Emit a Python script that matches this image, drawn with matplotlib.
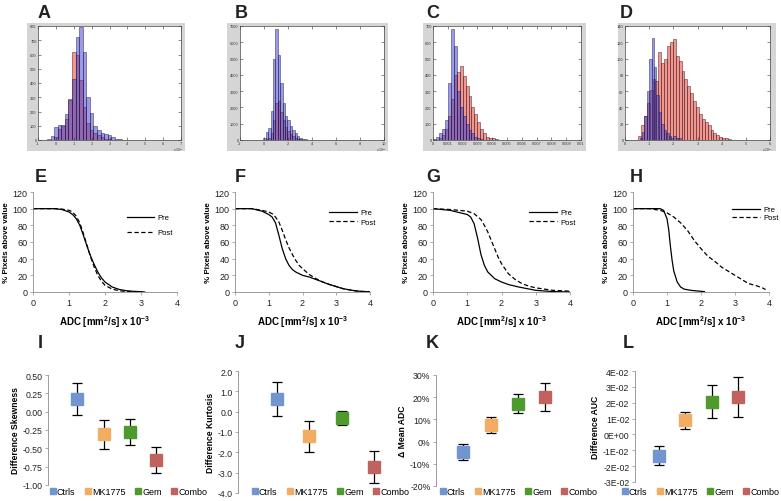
import numpy as np
import matplotlib
matplotlib.use("Agg")
import matplotlib.pyplot as plt
from matplotlib.patches import Rectangle
from matplotlib.lines import Line2D
from matplotlib.ticker import FuncFormatter, FormatStrFormatter

plt.rcParams['font.family'] = ['Liberation Sans', 'DejaVu Sans']
plt.rcParams['axes.unicode_minus'] = False
plt.rcParams['mathtext.fontset'] = 'custom'
plt.rcParams['mathtext.rm'] = 'Liberation Sans'
plt.rcParams['mathtext.bf'] = 'Liberation Sans:bold'
plt.rcParams['mathtext.default'] = 'bf'

W, H = 781, 502

# ---- histogramas (linha de cima) ----
a_x = [-0.4, -0.2, 0.0, 0.2, 0.4, 0.6, 0.8, 1.0, 1.2, 1.4, 1.6, 1.8, 2.0, 2.2, 2.4, 2.6, 2.8, 3.0, 3.2, 3.4, 3.6, 3.8]
a_azul = [8, 30, 90, 105, 105, 185, 290, 430, 720, 790, 620, 300, 190, 100, 70, 50, 45, 35, 20, 10, 5, 3]
a_verm = [0, 0, 20, 80, 100, 150, 280, 620, 600, 420, 230, 120, 70, 50, 35, 20, 10, 5, 0, 0, 0, 0]

b_x = [0.05, 0.25, 0.45, 0.65, 0.85, 1.05, 1.25, 1.45, 1.65, 1.85, 2.05, 2.25, 2.45, 2.65, 2.85, 3.05, 3.25, 3.45]
b_azul = [100, 500, 750, 1800, 5000, 6800, 5200, 3500, 2300, 1500, 1200, 850, 600, 400, 250, 150, 80, 40]
b_verm = [0, 50, 150, 400, 1200, 2300, 2400, 1700, 1200, 800, 550, 350, 220, 130, 80, 40, 20, 0]

c_x = [0.0001, 0.0003, 0.0005, 0.0007, 0.0009, 0.0011, 0.0013, 0.0015, 0.0017, 0.0019, 0.0021,
       0.0023, 0.0025, 0.0027, 0.0029, 0.0031, 0.0033, 0.0035, 0.0037, 0.0039, 0.0041, 0.0043]
c_azul = [5, 20, 40, 70, 120, 350, 680, 580, 300, 200, 150, 100, 60, 40, 20, 10, 5, 0, 0, 0, 0, 0]
c_verm = [0, 0, 10, 30, 70, 150, 250, 400, 420, 455, 390, 330, 270, 200, 160, 110, 70, 40, 20, 10, 10, 5]

d_azul_x = [0.65, 0.75, 0.85, 0.95, 1.05, 1.15, 1.25, 1.35, 1.45, 1.55, 1.65, 1.75, 1.85, 1.95, 2.05, 2.15, 2.25]
d_azul = [2, 10, 30, 60, 100, 125, 90, 55, 35, 20, 12, 8, 5, 3, 5, 2, 2]
d_verm_x = [0.6, 0.72, 0.84, 0.96, 1.08, 1.2, 1.32, 1.44, 1.56, 1.68, 1.8, 1.92, 2.04, 2.16, 2.28, 2.4,
            2.52, 2.64, 2.76, 2.88, 3.0, 3.12, 3.24, 3.36, 3.48, 3.6, 3.72, 3.84, 3.96, 4.08, 4.2, 4.32]
d_verm = [5, 18, 30, 45, 62, 75, 72, 108, 95, 100, 115, 120, 124, 103, 97, 85, 75, 66, 58, 48, 40, 32,
          26, 22, 18, 12, 9, 6, 4, 3, 2, 1]

# ---- curvas cumulativas (linha do meio) ----
e_pre_x = [0, 0.6, 0.8, 1.0, 1.1, 1.2, 1.3, 1.4, 1.5, 1.6, 1.7, 1.8, 1.9, 2.0, 2.2, 2.4, 2.6, 2.8, 3.0, 3.1]
e_pre_y = [100, 100, 99, 96, 93, 88, 80, 68, 55, 43, 33, 24, 17, 12, 6, 3, 1.5, 0.8, 0.4, 0]
e_pos_x = [0, 0.6, 0.8, 1.0, 1.1, 1.2, 1.3, 1.4, 1.5, 1.6, 1.7, 1.8, 1.9, 2.0, 2.2, 2.4, 2.6, 2.8, 3.0]
e_pos_y = [100, 100, 99.5, 98, 96, 91, 83, 70, 56, 42, 30, 20, 13, 8, 3.5, 1.5, 0.6, 0.2, 0]

f_pre_x = [0, 0.5, 0.8, 1.0, 1.1, 1.2, 1.3, 1.4, 1.5, 1.6, 1.7, 1.8, 2.0, 2.2, 2.4, 2.6, 2.8, 3.0, 3.2, 3.4, 3.6, 3.8, 4.0]
f_pre_y = [100, 100, 97, 93, 90, 83, 68, 52, 40, 32, 27, 24, 20, 18, 15, 12, 9, 6.5, 4, 2.5, 1.2, 0.6, 0.3]
f_pos_x = [0, 0.5, 0.8, 1.0, 1.1, 1.2, 1.3, 1.4, 1.5, 1.6, 1.7, 1.8, 1.9, 2.0, 2.2, 2.4, 2.6, 2.8, 3.0, 3.2, 3.4, 3.6, 3.8, 4.0]
f_pos_y = [100, 100, 98, 96, 94, 90, 84, 74, 63, 53, 45, 38, 32, 28, 21, 16, 12, 9, 6.5, 4, 2.5, 1.2, 0.6, 0.3]

g_pre_x = [0, 0.5, 1.0, 1.1, 1.2, 1.3, 1.4, 1.5, 1.6, 1.8, 2.0, 2.2, 2.5, 3.0, 3.5, 4.0]
g_pre_y = [100, 98, 93, 90, 82, 65, 45, 32, 24, 16, 12, 9, 6, 2, 0.5, 0]
g_pos_x = [0, 0.5, 1.0, 1.2, 1.4, 1.5, 1.6, 1.7, 1.8, 1.9, 2.0, 2.2, 2.4, 2.6, 2.8, 3.0, 3.5, 4.0]
g_pos_y = [100, 99, 97, 94, 87, 80, 72, 62, 52, 42, 34, 22, 15, 10, 7, 5, 2, 1]

h_pre_x = [0, 0.8, 0.9, 1.0, 1.05, 1.1, 1.15, 1.2, 1.3, 1.4, 1.5, 1.7, 2.0, 2.1]
h_pre_y = [100, 100, 98, 88, 75, 55, 38, 25, 12, 6, 3.5, 2, 0.8, 0.5]
h_pos_x = [0, 0.5, 0.8, 1.0, 1.2, 1.4, 1.6, 1.8, 2.0, 2.2, 2.4, 2.6, 2.8, 3.0, 3.2, 3.4, 3.6, 3.8, 3.9]
h_pos_y = [100, 100, 98, 95, 90, 83, 74, 62, 52, 43, 37, 30, 25, 20, 15, 10, 8, 5, 3]

# ---- grupos (linha de baixo) ----
grupos = ['Ctrls', 'MK1775', 'Gem', 'Combo']
cores_grupos = ['#7195cf', '#f2ad63', '#4f9a2c', '#c2625f']
skew_media = [0.17, -0.31, -0.28, -0.66]
skew_erro = [0.215, 0.195, 0.18, 0.18]
kurt_media = [0.63, -1.21, -0.31, -2.7]
kurt_erro = [0.82, 0.75, 0.33, 0.79]
adc_media = [-4.7, 7.4, 17.1, 20.3]
adc_erro = [3.7, 3.7, 4.3, 6.3]
auc_media = [-0.0133, 0.0088, 0.0206, 0.0234]
auc_erro = [0.0059, 0.0053, 0.0103, 0.0127]

fig = plt.figure(figsize=(W / 100, H / 100), dpi=100)


def eixo_px(x0, y0, x1, y1):
    return fig.add_axes([x0 / W, 1 - y1 / H, (x1 - x0) / W, (y1 - y0) / H])


def letra(txt, x, y):
    fig.text(x / W, 1 - y / H, txt, fontsize=13, fontweight='bold', color='#222222',
             ha='left', va='center')


# ---------- linha 1 ----------
hist_specs = [
    ('A', (27, 24, 185, 152), (38, 27, 181, 141), a_x, a_azul, a_x, a_verm, 0.2, 0.2,
     (-1, 7), np.arange(-1, 8, 1), (0, 800), np.arange(0, 900, 100), True, 38),
    ('B', (227, 24, 388, 152), (240, 27, 384, 141), b_x, b_azul, b_x, b_verm, 0.2, 0.2,
     (-2, 10), np.arange(-2, 11, 2), (0, 7000), np.arange(0, 8000, 1000), True, 235),
    ('C', (423, 24, 586, 152), (433, 27, 581, 141), c_x, c_azul, c_x, c_verm, 0.0002, 0.0002,
     (0, 0.01), np.arange(0, 0.0105, 0.001), (0, 700), np.arange(0, 800, 100), False, 426),
    ('D', (618, 24, 776, 152), (625, 27, 770, 141), d_azul_x, d_azul, d_verm_x, d_verm, 0.1, 0.12,
     (0, 6), np.arange(0, 7, 1), (0, 140), np.arange(0, 160, 20), True, 620),
]

for (nome, caixa, pos, xb, nb, xr, nr, wb, wr, xl, xt, yl, yt, escala, lx) in hist_specs:
    fig.add_artist(Rectangle((caixa[0] / W, 1 - caixa[3] / H), (caixa[2] - caixa[0]) / W,
                             (caixa[3] - caixa[1]) / H, transform=fig.transFigure,
                             facecolor='#d5d5d5', edgecolor='none', zorder=-1))
    ax = eixo_px(*pos)
    ax.bar(xr, nr, width=wr, color=(0.9, 0.33, 0.27, 0.6), edgecolor=(0.25, 0.05, 0.1, 0.8),
           linewidth=0.4)
    ax.bar(xb, nb, width=wb, color=(0.22, 0.22, 0.8, 0.5), edgecolor=(0.1, 0.1, 0.3, 0.8),
           linewidth=0.4)
    ax.set_xlim(*xl)
    ax.set_ylim(*yl)
    ax.set_xticks(xt)
    ax.set_yticks(yt)
    if nome == 'C':
        ax.xaxis.set_major_formatter(FuncFormatter(lambda v, p: '0' if v == 0 else f'{v:.3f}'.rstrip('0')))
    ax.tick_params(direction='in', top=True, right=True, length=2, width=0.4,
                   labelsize=2.8, pad=1, colors='#333333')
    for s in ax.spines.values():
        s.set_linewidth(0.5)
        s.set_color('#444444')
    if escala:
        fig.text((pos[2] - 8) / W, 1 - (pos[3] + 9.5) / H, r'$\mathrm{x\ 10^{-3}}$', fontsize=2.3,
                 ha='left', va='center', color='#333333')
    letra(nome, lx, 13)

# ---------- linha 2 ----------
curva_specs = [
    ('E', (33, 193, 177, 293), e_pre_x, e_pre_y, e_pos_x, e_pos_y, 35, (0.97, 0.78), 1.0),
    ('F', (235, 193, 370, 293), f_pre_x, f_pre_y, f_pos_x, f_pos_y, 235, (1.04, 0.83), 0.3),
    ('G', (433, 193, 570, 293), g_pre_x, g_pre_y, g_pos_x, g_pos_y, 426, (1.04, 0.83), 0.3),
    ('H', (633, 193, 769, 293), h_pre_x, h_pre_y, h_pos_x, h_pos_y, 630, (1.07, 0.86), 0.1),
]

for (nome, pos, px, py, qx, qy, lx, leg_pos, esp) in curva_specs:
    ax = eixo_px(*pos)
    ax.plot(px, py, color='black', lw=0.9, label='Pre')
    ax.plot(qx, qy, color='black', lw=0.9, ls=(0, (3.5, 2)), label='Post')
    ax.set_xlim(0, 4)
    ax.set_ylim(0, 120)
    ax.set_xticks([0, 1, 2, 3, 4])
    ax.set_yticks(np.arange(0, 140, 20))
    for s in ['top', 'right']:
        ax.spines[s].set_visible(False)
    for s in ['left', 'bottom']:
        ax.spines[s].set_color('#8c8c8c')
        ax.spines[s].set_linewidth(0.6)
    ax.tick_params(length=2, width=0.5, color='#8c8c8c', labelsize=6.5, pad=2, labelcolor='#222222')
    ax.set_ylabel('% Pixels above value', fontsize=5.8, fontweight='bold', labelpad=2)
    ax.set_xlabel(r'ADC [mm$^2$/s] x 10$^{-3}$', fontsize=7, fontweight='bold', labelpad=5)
    ax.legend(loc='upper right', bbox_to_anchor=leg_pos, frameon=False, fontsize=5.5,
              handlelength=3.6, handletextpad=0.4, labelspacing=esp, borderaxespad=0, borderpad=0)
    letra(nome, lx, 177)

# ---------- linha 3 ----------
grupo_specs = [
    ('I', (48, 376, 172, 486), skew_media, skew_erro, (-1.0, 0.5), np.arange(-1.0, 0.75, 0.25),
     FormatStrFormatter('%.2f'), 'Difference Skewness', (-0.12, 4.6), 38, 50),
    ('J', (238, 372, 394, 494), kurt_media, kurt_erro, (-4.0, 2.0), np.arange(-4.0, 2.5, 1.0),
     FormatStrFormatter('%.1f'), 'Difference Kurtosis', (-0.2, 4.6), 235, 252),
    ('K', (436, 376, 570, 487), adc_media, adc_erro, (-20, 30), np.arange(-20, 40, 10),
     FuncFormatter(lambda v, p: f'{v:.0f}%'), u'\u0394 Mean ADC', (0.0, 4.9), 426, 440),
    ('L', (635, 372, 765, 483), auc_media, auc_erro, (-0.03, 0.04), np.arange(-0.03, 0.045, 0.01),
     FuncFormatter(lambda v, p: f'{round(v, 4):.0E}'), 'Difference AUC', (0.1, 5.0), 623, 622),
]

posicoes = [1, 2, 3, 4]
for (nome, pos, med, err, yl, yt, fmt, ylab, xl, lx, legx) in grupo_specs:
    ax = eixo_px(*pos)
    for xi, m, e, c in zip(posicoes, med, err, cores_grupos):
        ax.errorbar(xi, m, yerr=e, fmt='none', ecolor='black', elinewidth=0.9, capsize=3.5,
                    capthick=0.9, zorder=2)
        ax.plot(xi, m, marker='s', ms=8.5, color=c, mec=c, ls='none', zorder=3)
    ax.set_xlim(*xl)
    ax.set_ylim(*yl)
    ax.set_yticks(yt)
    ax.yaxis.set_major_formatter(fmt)
    ax.set_xticks([])
    for s in ['top', 'right', 'bottom']:
        ax.spines[s].set_visible(False)
    ax.spines['left'].set_color('#8c8c8c')
    ax.spines['left'].set_linewidth(0.6)
    ax.tick_params(axis='y', length=2, width=0.5, color='#8c8c8c', labelsize=6.3, pad=2,
                   labelcolor='#222222')
    ax.set_ylabel(ylab, fontsize=6.2, fontweight='bold', labelpad=2)
    alcas = [Line2D([], [], marker='s', ms=5, color=c, ls='none') for c in cores_grupos]
    ax.legend(alcas, grupos, loc='center left', bbox_to_anchor=(legx / W, 1 - 493 / H),
              bbox_transform=fig.transFigure, ncol=4, frameon=False, fontsize=6.5,
              handlelength=0.6, handletextpad=0.15, columnspacing=1.1, borderaxespad=0,
              borderpad=0)
    letra(nome, lx, 344)

fig.savefig('out.png', dpi=100)
